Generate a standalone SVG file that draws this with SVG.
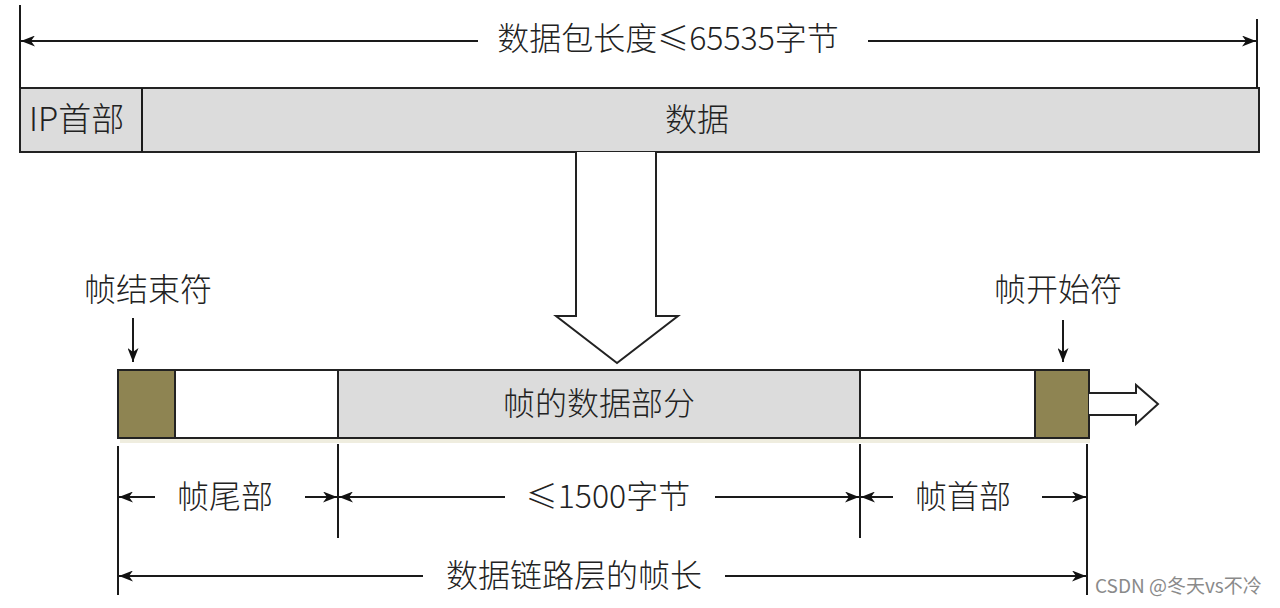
<svg xmlns="http://www.w3.org/2000/svg" width="1280" height="608" viewBox="0 0 1280 608">
<defs>
<marker id="ah" viewBox="0 0 14 11" refX="14" refY="5.5" markerWidth="14" markerHeight="11" markerUnits="userSpaceOnUse" orient="auto-start-reverse">
<path d="M0,0 L14,5.5 L0,11 L4,5.5 z" fill="#111"/>
</marker>
</defs>
<style>
text{font-family:"Noto Sans CJK SC","Noto Sans",sans-serif;fill:#222;font-size:32px;font-weight:300;dominant-baseline:central}
.ln{stroke:#1a1a1a;stroke-width:2;fill:none}
.box{stroke:#222;stroke-width:2}
.gray{fill:#dcdcdc}
.white{fill:#fff}
.brown{fill:#8e8452}
</style>
<rect width="1280" height="608" fill="#fff"/>

<g id="ip-packet">
<rect class="box gray" x="20" y="88" width="1239" height="64"/>
<line class="ln" x1="142" y1="88" x2="142" y2="152"/>
<text x="29" y="117" style="font-size:33px">IP首部</text>
<text x="697" y="117" text-anchor="middle">数据</text>
</g>

<g id="big-arrow">
<path class="box white" d="M576,152 L576,316 L556,316 L617,363 L678,316 L656,316 L656,152"/>
</g>

<g id="frame">
<rect x="120" y="438" width="970" height="5" fill="#efeddf"/>
<rect class="box brown" x="118" y="370" width="57" height="68"/>
<rect class="box white" x="175" y="370" width="163" height="68"/>
<rect class="box gray" x="338" y="370" width="522" height="68"/>
<rect class="box white" x="860" y="370" width="175" height="68"/>
<rect class="box brown" x="1035" y="370" width="54" height="68"/>
<text x="599" y="401" text-anchor="middle">帧的数据部分</text>
</g>

<g id="small-arrow">
<path class="box white" d="M1089,393 L1136,393 L1136,385 L1158,404 L1136,424 L1136,415 L1089,415"/>
</g>

<g id="label-end">
<text x="148" y="287" text-anchor="middle">帧结束符</text>
</g>
<g id="label-start">
<text x="1058" y="287" text-anchor="middle">帧开始符</text>
</g>

<g id="connectors">
<line class="ln" x1="20" y1="5" x2="20" y2="88"/>
<line class="ln" x1="1257" y1="19" x2="1257" y2="88"/>
<line class="ln" x1="478" y1="41" x2="21" y2="41" marker-end="url(#ah)"/>
<line class="ln" x1="868" y1="41" x2="1256" y2="41" marker-end="url(#ah)"/>
<line class="ln" x1="133" y1="318" x2="133" y2="362" marker-end="url(#ah)"/>
<line class="ln" x1="1063" y1="320" x2="1063" y2="362" marker-end="url(#ah)"/>
<line class="ln" x1="118" y1="446" x2="118" y2="595"/>
<line class="ln" x1="338" y1="444" x2="338" y2="538"/>
<line class="ln" x1="860" y1="444" x2="860" y2="538"/>
<line class="ln" x1="1087" y1="444" x2="1087" y2="595"/>
<line class="ln" x1="155" y1="497" x2="119" y2="497" marker-end="url(#ah)"/>
<line class="ln" x1="305" y1="497" x2="337" y2="497" marker-end="url(#ah)"/>
<line class="ln" x1="505" y1="497" x2="339" y2="497" marker-end="url(#ah)"/>
<line class="ln" x1="715" y1="497" x2="859" y2="497" marker-end="url(#ah)"/>
<line class="ln" x1="893" y1="497" x2="861" y2="497" marker-end="url(#ah)"/>
<line class="ln" x1="1042" y1="497" x2="1086" y2="497" marker-end="url(#ah)"/>
<line class="ln" x1="423" y1="576" x2="119" y2="576" marker-end="url(#ah)"/>
<line class="ln" x1="725" y1="576" x2="1086" y2="576" marker-end="url(#ah)"/>
</g>

<g id="dimension-labels">
<text x="668" y="36" text-anchor="middle">数据包长度≤65535字节</text>
<text x="225" y="494" text-anchor="middle">帧尾部</text>
<text x="608" y="494" text-anchor="middle">≤1500字节</text>
<text x="963" y="494" text-anchor="middle">帧首部</text>
<text x="574" y="573" text-anchor="middle">数据链路层的帧长</text>
</g>

<text x="1095" y="584" style="font-size:19px;font-weight:400;fill:#8a8a8a">CSDN @冬天vs不冷</text>
</svg>
